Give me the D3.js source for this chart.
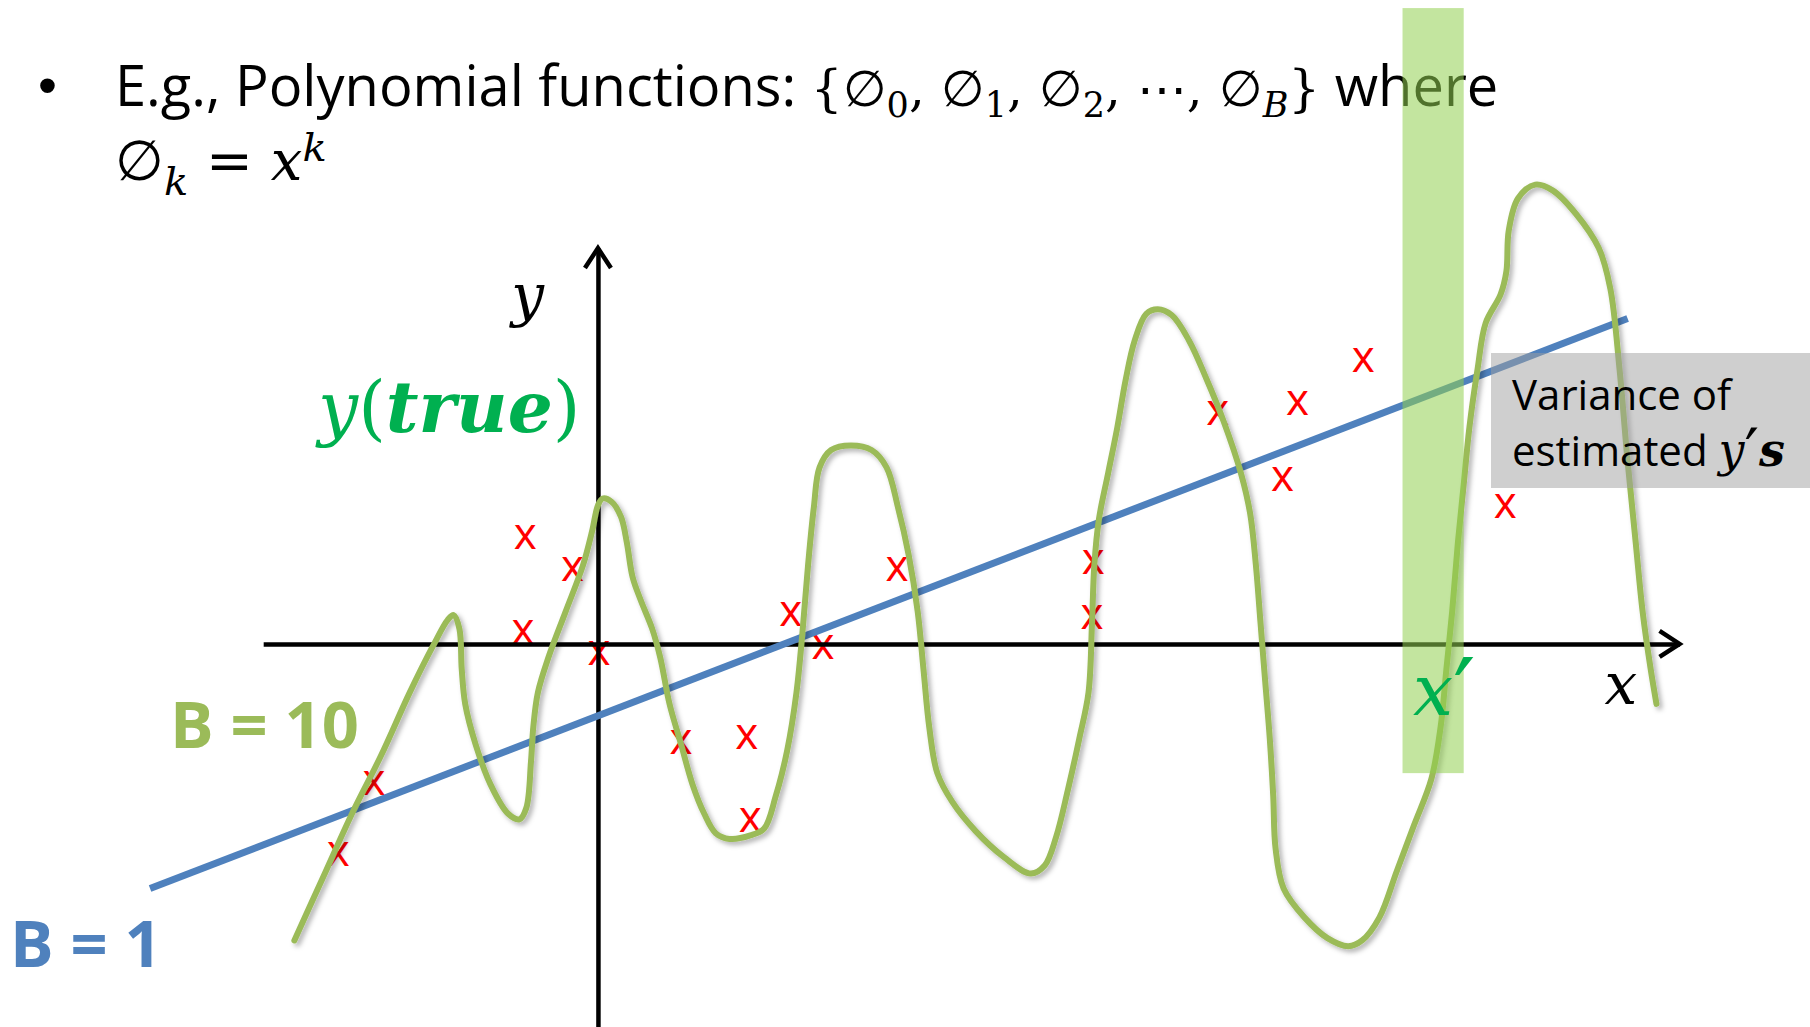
<!DOCTYPE html>
<html>
<head>
<meta charset="utf-8">
<script src="https://cdn.jsdelivr.net/npm/d3@7"></script>
<style>
  body { margin: 0; background: #fff; overflow: hidden; }
</style>
</head>
<body>
<div id="chart"></div>
<script>
// --- Data (abstract units, origin where the axes cross) ---

// the wiggly B = 10 fit
var fitB10 = [
  [-2.63,-2.57],[-2.38,-2.02],[-2.13,-1.47],[-1.88,-0.97],[-1.63,-0.42],[-1.43,-0.02],
  [-1.30,0.21],[-1.25,0.25],[-1.20,0.13],[-1.18,-0.22],[-1.15,-0.52],[-1.06,-0.87],
  [-0.93,-1.22],[-0.78,-1.47],[-0.68,-1.52],[-0.62,-1.42],[-0.58,-1.02],[-0.56,-0.72],
  [-0.52,-0.42],[-0.43,-0.12],[-0.28,0.28],[-0.13,0.68],[-0.05,0.98],[0.00,1.20],
  [0.04,1.26],[0.12,1.23],[0.20,1.10],[0.25,0.88],[0.30,0.58],[0.37,0.38],[0.47,0.13],
  [0.54,-0.12],[0.62,-0.52],[0.72,-0.87],[0.82,-1.22],[0.92,-1.47],[1.02,-1.64],
  [1.14,-1.69],[1.32,-1.66],[1.44,-1.60],[1.54,-1.32],[1.64,-0.92],[1.72,-0.42],
  [1.77,0.08],[1.82,0.68],[1.87,1.18],[1.92,1.53],[2.02,1.68],[2.19,1.72],[2.37,1.68],
  [2.50,1.53],[2.60,1.18],[2.69,0.78],[2.77,0.28],[2.82,-0.22],[2.87,-0.72],[2.94,-1.12],
  [3.07,-1.37],[3.27,-1.62],[3.52,-1.85],[3.75,-1.99],[3.87,-1.92],[3.97,-1.67],
  [4.07,-1.27],[4.17,-0.82],[4.25,-0.42],[4.28,0.18],[4.30,0.68],[4.34,1.08],[4.42,1.48],
  [4.50,1.88],[4.57,2.28],[4.65,2.63],[4.75,2.86],[4.85,2.90],[4.97,2.85],[5.12,2.63],
  [5.27,2.30],[5.42,1.93],[5.57,1.48],[5.65,1.13],[5.70,0.68],[5.74,0.18],[5.78,-0.32],
  [5.82,-0.82],[5.85,-1.32],[5.87,-1.77],[5.94,-2.12],[6.12,-2.37],[6.32,-2.55],
  [6.50,-2.62],[6.62,-2.57],[6.77,-2.37],[6.92,-1.97],[7.07,-1.57],[7.22,-1.17],
  [7.30,-0.72],[7.35,-0.22],[7.40,0.28],[7.45,0.88],[7.50,1.38],[7.55,1.88],[7.62,2.38],
  [7.69,2.78],[7.82,3.03],[7.87,3.23],[7.89,3.58],[7.97,3.86],[8.12,3.98],[8.27,3.93],
  [8.47,3.73],[8.67,3.43],[8.77,3.08],[8.85,2.38],[8.92,1.58],[8.99,0.88],[9.05,0.28],
  [9.12,-0.22],[9.17,-0.52]
];

// the straight B = 1 fit
var fitB1 = [[-3.88,-2.12],[8.92,2.82]];

// sampled training points
var samples = [
  [-0.63,0.93],[-0.22,0.65],[-0.65,0.11],[0.01,-0.08],[-1.94,-1.20],[-2.25,-1.82],
  [0.72,-0.85],[1.29,-0.80],[1.32,-1.52],[1.67,0.26],[1.95,-0.02],[2.59,0.65],
  [4.29,0.71],[4.28,0.24],[5.37,2.00],[6.06,2.09],[5.93,1.43],[6.63,2.46],[7.86,1.20]
];

var axisXExtent = [-2.90, 9.37];
var axisYExtent = [-3.40, 3.43];
var bandX = [6.97, 7.50];
var bandY = [-1.12, 5.51];

var W = 1810, H = 1027;
var svg = d3.select("#chart").append("svg")
  .attr("width", W)
  .attr("height", H);

var x = d3.scaleLinear().domain([-5.18, 10.5]).range([0, W]);
var y = d3.scaleLinear().domain([-3.32, 5.58]).range([H, 0]);

var green = "#9bbb59", blue = "#4f81bd", bright = "#00b050";
var sans = "'Open Sans', 'Noto Sans', sans-serif";
var math = "'DejaVu Serif', 'Liberation Serif', serif";

var defs = svg.append("defs");
var shadow = defs.append("filter").attr("id", "shadow")
  .attr("x", "-5%").attr("y", "-5%").attr("width", "110%").attr("height", "110%");
shadow.append("feDropShadow")
  .attr("dx", 3).attr("dy", 3).attr("stdDeviation", 2.5)
  .attr("flood-color", "#000").attr("flood-opacity", 0.3);

// --- rich text helper: parts are [text, kind] ---

function rich(g, xPos, yPos, parts, table) {
  var t = g.append("text").attr("x", xPos).attr("y", yPos);
  var shift = 0;
  parts.forEach(function(p) {
    var k = table[p[1]];
    var d = (k.dy || 0) - shift;
    shift = k.dy || 0;
    t.append("tspan")
      .attr("dy", d)
      .attr("font-family", k.f)
      .attr("font-size", k.s)
      .attr("font-style", k.st || "normal")
      .attr("font-weight", k.w || "normal")
      .attr("fill", k.c || "#000")
      .text(p[0]);
  });
  return t;
}

// --- Title ---

svg.append("text")
  .attr("x", 38).attr("y", 104)
  .attr("font-family", "'Liberation Sans', sans-serif")
  .attr("font-size", 54)
  .text("•");

var line1 = {
  sans:  { f: sans, s: 56 },
  m:     { f: math, s: 50 },
  sub:   { f: math, s: 35, dy: 11 },
  subi:  { f: math, s: 35, dy: 11, st: "italic" }
};
rich(svg, 115, 106, [
  ["E.g., Polynomial functions: ", "sans"],
  ["{∅", "m"], ["0", "sub"], [", ∅", "m"], ["1", "sub"], [", ∅", "m"], ["2", "sub"],
  [", ⋯, ∅", "m"], ["B", "subi"], ["}", "m"], [" where", "sans"]
], line1);

var line2 = {
  m:     { f: math, s: 56 },
  mi:    { f: math, s: 56, st: "italic" },
  subi:  { f: math, s: 40, dy: 15, st: "italic" },
  supi:  { f: math, s: 40, dy: -19, st: "italic" }
};
rich(svg, 115, 180, [
  ["∅", "m"], ["k", "subi"], [" = ", "m"], ["x", "mi"], ["k", "supi"]
], line2);

// --- Sample points ---

svg.append("g").selectAll("text")
  .data(samples)
  .enter()
  .append("text")
  .attr("x", d => x(d[0]))
  .attr("y", d => y(d[1]))
  .attr("dy", "0.28em")
  .attr("text-anchor", "middle")
  .attr("font-family", sans)
  .attr("font-size", 44)
  .attr("fill", "#ff0000")
  .text("x");

// --- Axes ---

var xAx = x.copy().domain(axisXExtent).range(axisXExtent.map(x));
var yAx = y.copy().domain(axisYExtent).range(axisYExtent.map(y));

var gx = svg.append("g")
  .attr("transform", `translate(0, ${y(0)})`)
  .call(d3.axisBottom(xAx).tickValues([]).tickSizeOuter(0));
var gy = svg.append("g")
  .attr("transform", `translate(${x(0)}, 0)`)
  .call(d3.axisLeft(yAx).tickValues([]).tickSizeOuter(0));
svg.selectAll(".domain").attr("stroke", "#000").attr("stroke-width", 4.5);

var xTip = x(axisXExtent[1]);
gx.append("path")
  .attr("d", `M${xTip - 20},-13L${xTip},0L${xTip - 20},13`)
  .attr("fill", "none").attr("stroke", "#000").attr("stroke-width", 4.5);
var yTip = y(axisYExtent[1]);
gy.append("path")
  .attr("d", `M-13,${yTip + 20}L0,${yTip}L13,${yTip + 20}`)
  .attr("fill", "none").attr("stroke", "#000").attr("stroke-width", 4.5);

// --- Fits ---

var line = d3.line()
  .x(d => x(d[0]))
  .y(d => y(d[1]));

svg.append("path")
  .attr("d", line(fitB1))
  .attr("fill", "none")
  .attr("stroke", blue)
  .attr("stroke-width", 7);

svg.append("path")
  .attr("d", line.curve(d3.curveCatmullRom.alpha(0.5))(fitB10))
  .attr("fill", "none")
  .attr("stroke", green)
  .attr("stroke-width", 6)
  .attr("stroke-linecap", "round")
  .attr("filter", "url(#shadow)");

// --- Highlighted x' band ---

svg.append("rect")
  .attr("x", x(bandX[0]))
  .attr("y", y(bandY[1]))
  .attr("width", x(bandX[1]) - x(bandX[0]))
  .attr("height", y(bandY[0]) - y(bandY[1]))
  .attr("fill", "#92d050")
  .attr("fill-opacity", 0.55);

// --- Variance note ---

svg.append("rect")
  .attr("x", 1491).attr("y", 353)
  .attr("width", W - 1491).attr("height", 135)
  .attr("fill", "#a0a0a0")
  .attr("fill-opacity", 0.5);

var note = {
  t:  { f: sans, s: 42 },
  yi: { f: math, s: 46, st: "italic" },
  p:  { f: math, s: 64, dy: 8 },
  sb: { f: math, s: 46, st: "italic", w: "bold" }
};
rich(svg, 1512, 410, [["Variance of", "t"]], note);
rich(svg, 1512, 466, [["estimated ", "t"], ["y", "yi"], ["′", "p"], ["s", "sb"]], note);

// --- Labels ---

svg.append("text")
  .attr("x", x(-0.75)).attr("y", y(2.85))
  .attr("font-family", math).attr("font-size", 58).attr("font-style", "italic")
  .text("y");
svg.append("text")
  .attr("x", x(8.72)).attr("y", y(-0.52))
  .attr("font-family", math).attr("font-size", 58).attr("font-style", "italic")
  .text("x");

var lab = {
  gi: { f: math, s: 71, st: "italic", c: bright },
  gp: { f: math, s: 71, c: bright },
  gq: { f: math, s: 100, dy: 14, c: bright },
  gb: { f: math, s: 71, st: "italic", w: "bold", c: bright }
};
rich(svg, x(7.06), y(-0.62), [["x", "gi"], ["′", "gq"]], lab);
rich(svg, 318, 432, [["y", "gi"], ["(", "gp"], ["true", "gb"], [")", "gp"]], lab);

svg.append("text")
  .attr("x", 170).attr("y", 748)
  .attr("font-family", sans).attr("font-size", 65).attr("font-weight", "bold")
  .attr("fill", green)
  .text("B = 10");
svg.append("text")
  .attr("x", 10).attr("y", 967)
  .attr("font-family", sans).attr("font-size", 65).attr("font-weight", "bold")
  .attr("fill", blue)
  .text("B = 1");
</script>
</body>
</html>
